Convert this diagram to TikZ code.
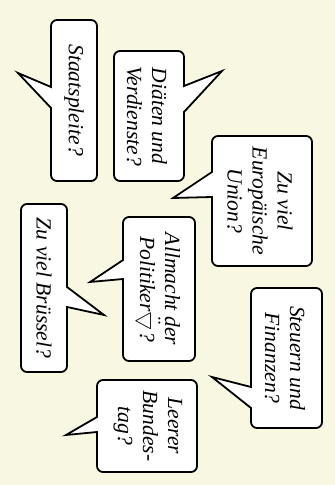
\documentclass[tikz,border=0pt]{standalone}
\usepackage{amssymb}
\usepackage{fontspec}
\setmainfont{Liberation Serif}
\usepackage{xcolor}
\definecolor{papercream}{RGB}{248,247,226}

\tikzset{
  bubble/.style={draw=black, fill=white, line width=0.9pt},
  saying/.style={rotate=-90, align=center,
    font=\fontsize{10.8}{12.5}\selectfont\itshape}
}

\begin{document}
\begin{tikzpicture}[x=0.5pt, y=-0.5pt]

    \fill[papercream] (0,0) rectangle (335,485);

    % top row
    \draw[bubble] (18,73) -- (51,87) [rounded corners=3pt] -- (51,20)
      -- (97,20) -- (97,181) -- (51,181) [sharp corners] -- (51,108) -- cycle;
    \node[saying] (pleite) at (74,100) {Staatspleite?};

    \draw[bubble] (222,71) -- (184,86) [rounded corners=3pt] -- (184,51)
      -- (114,51) -- (114,181) -- (184,181) [sharp corners] -- (184,112) -- cycle;
    \node[saying] (diaeten) at (147,116) {Diäten und\\Verdienste?};

    \draw[bubble] (173,198) -- (212,172) [rounded corners=3pt] -- (212,136)
      -- (312,136) -- (312,266) -- (212,266) [sharp corners] -- (212,197) -- cycle;
    \node[saying] (union) at (260,201) {Zu viel\\Europäische\\Union?};

    % middle row
    \draw[bubble] (104,315) -- (67,287) [rounded corners=3pt] -- (67,204)
      -- (21,204) -- (21,372) -- (67,372) [sharp corners] -- (67,307) -- cycle;
    \node[saying] (bruessel) at (44,288) {Zu viel Brüssel?};

    \draw[bubble] (90,282) -- (123,260) [rounded corners=3pt] -- (123,217)
      -- (195,217) -- (195,361) -- (123,361) [sharp corners] -- (123,279) -- cycle;
    \node[saying] (allmacht) at (158,289) {Allmacht der\\Politiker$\ddot{\bigtriangledown}$?};

    % bottom row
    \draw[bubble] (212,377) -- (251,387) [rounded corners=3pt] -- (251,288)
      -- (322,288) -- (322,428) -- (251,428) [sharp corners] -- (251,408) -- cycle;
    \node[saying] (steuern) at (285,358) {Steuern und\\Finanzen?};

    \draw[bubble] (66,435) -- (97,417) [rounded corners=3pt] -- (97,380)
      -- (197,380) -- (197,472) -- (97,472) [sharp corners] -- (97,432) -- cycle;
    \node[saying] (bundestag) at (148,426) {Leerer\\Bundes-\\tag?};

\end{tikzpicture}
\end{document}
